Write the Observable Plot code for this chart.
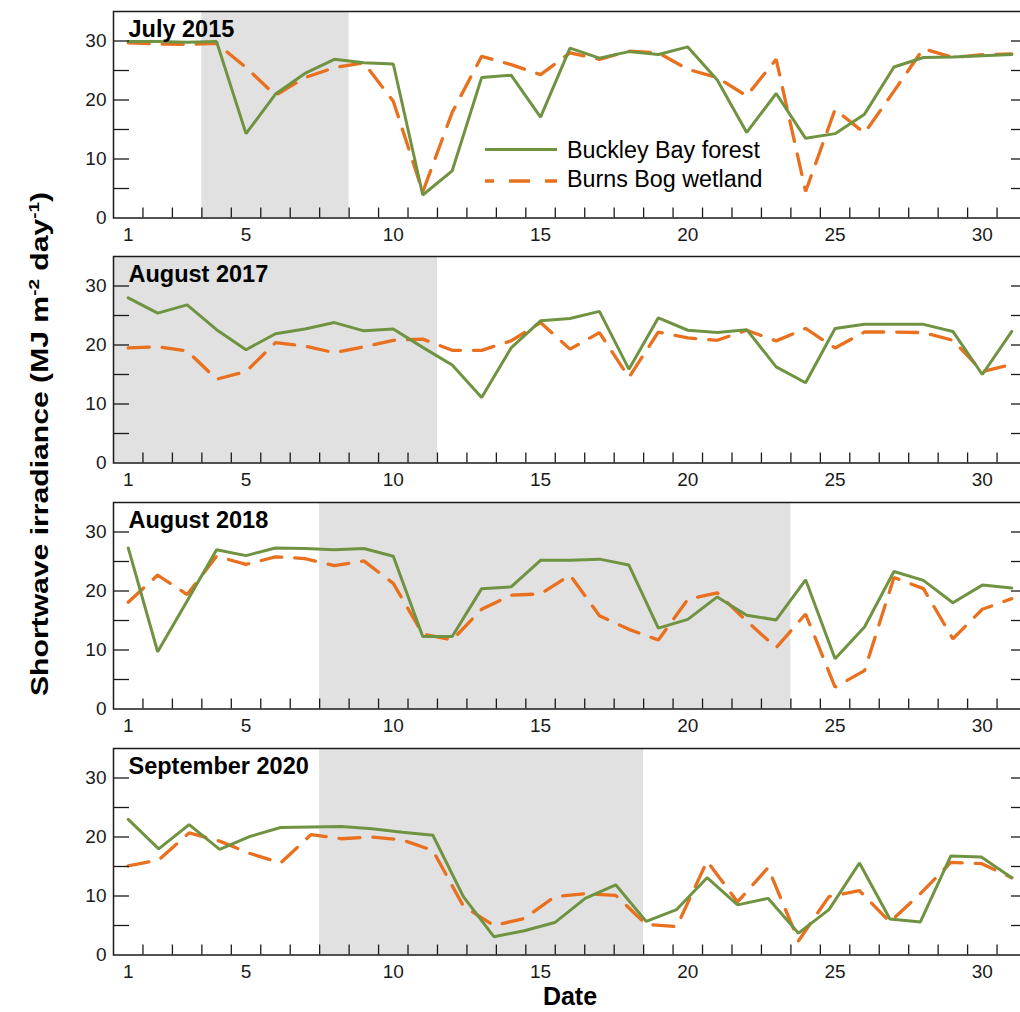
<!DOCTYPE html>
<html>
<head>
<meta charset="utf-8">
<script src="https://cdn.jsdelivr.net/npm/d3@7"></script>
<script src="https://cdn.jsdelivr.net/npm/@observablehq/plot@0.6"></script>
<style>
html, body { margin: 0; padding: 0; background: #fff; overflow: hidden; width: 1020px; height: 1012px; }
#wrap { position: relative; width: 1020px; height: 1012px; overflow: hidden; font-family: "Liberation Sans", Arial, Helvetica, sans-serif; }
.panel { position: absolute; left: 0; }
</style>
</head>
<body>
<div id="wrap"></div>
<script>
// ---------------- data ----------------
const seriesNames = ["Buckley Bay forest", "Burns Bog wetland"];
const panelTitles = ["July 2015", "August 2017", "August 2018", "September 2020"];

const days31 = [1,2,3,4,5,6,7,8,9,10,11,12,13,14,15,16,17,18,19,20,21,22,23,24,25,26,27,28,29,30,31];
const days30 = [1,2,3,4,5,6,7,8,9,10,11,12,13,14,15,16,17,18,19,20,21,22,23,24,25,26,27,28,29,30];

const july2015Forest = [29.9,29.9,29.8,29.9,14.3,21.0,24.5,26.9,26.3,26.1,3.9,8.0,23.8,24.2,17.1,28.8,27.1,28.2,27.7,29.0,23.4,14.5,21.1,13.5,14.3,17.6,25.6,27.2,27.3,27.5,27.7];
const july2015Bog    = [29.7,29.5,29.4,29.6,25.5,20.8,23.8,25.5,26.3,19.8,4.4,17.9,27.4,26.0,24.3,28.0,26.9,28.3,28.0,25.2,23.8,20.7,26.9,4.5,18.4,14.4,21.5,28.7,27.2,27.7,27.8];

const aug2017Forest = [28.0,25.4,26.8,22.6,19.2,21.9,22.7,23.8,22.4,22.7,19.6,16.6,11.1,19.5,24.1,24.5,25.7,15.9,24.6,22.5,22.1,22.6,16.3,13.6,22.8,23.5,23.5,23.5,22.3,15.0,22.3];
const aug2017Bog    = [19.5,19.7,19.0,14.2,15.5,20.4,19.8,18.7,19.7,20.8,21.0,19.1,19.1,20.7,23.8,19.3,22.1,14.5,22.2,21.2,20.8,22.5,20.7,22.8,19.5,22.2,22.2,22.1,20.8,15.5,16.7];

const aug2018Forest = [27.3,9.7,18.3,27.0,26.0,27.3,27.2,27.0,27.2,25.9,12.3,12.3,20.4,20.7,25.2,25.2,25.4,24.4,13.7,15.2,19.0,15.9,15.1,21.9,8.5,13.9,23.3,21.8,18.0,21.0,20.5];
const aug2018Bog    = [18.1,22.7,19.4,25.9,24.5,25.8,25.5,24.3,25.1,21.3,12.7,11.7,16.9,19.3,19.5,22.7,15.8,13.5,11.7,18.6,19.7,14.9,10.4,16.1,3.7,6.5,22.3,20.4,11.9,16.9,18.7];

const sep2020Forest = [23.0,18.0,22.1,17.9,20.1,21.6,21.7,21.8,21.4,20.8,20.3,9.9,3.1,4.1,5.5,9.6,11.9,5.7,7.7,13.1,8.5,9.6,3.7,7.7,15.6,6.1,5.6,16.8,16.6,13.1];
const sep2020Bog    = [15.1,16.1,20.7,19.3,17.2,15.6,20.4,19.7,20.0,19.5,17.7,8.3,5.0,6.2,9.9,10.4,10.1,5.2,4.8,15.9,9.0,14.8,2.4,9.9,10.9,5.6,10.4,15.7,15.5,13.1];

// shaded periods (day boundaries)
const shadeStart = [3.5, 0.5, 7.5, 7.5];
const shadeEnd   = [8.5, 11.5, 23.5, 18.5];

// axis ticks
const xTickLabels = [1,5,10,15,20,25,30];
const xTickMarks  = [1.5,2.5,3.5,4.5,5.5,6.5,7.5,8.5,9.5,10.5,11.5,12.5,13.5,14.5,15.5,16.5,17.5,18.5,19.5,20.5,21.5,22.5,23.5,24.5,25.5,26.5,27.5,28.5,29.5,30.5];
const yTickLabels = [0,10,20,30];
const yTickMarks  = [5,10,15,20,25,30];

// ---------------- style ----------------
const FONT = '"Liberation Sans", Arial, Helvetica, sans-serif';
const GREEN = "#6f9340";
const ORANGE = "#e8701e";
const SHADE = "#e1e1e1";
const INK = "#1a1a1a";

const W = 1030, ML = 113, MR = 4, MT = 10, MB = 34, PH = 206.5;
const plotW = W - ML - MR;
const panelTops = [10.7, 255.7, 501.7, 748.3];

const panels = [
  {title: panelTitles[0], days: days31, forest: july2015Forest, bog: july2015Bog},
  {title: panelTitles[1], days: days31, forest: aug2017Forest, bog: aug2017Bog},
  {title: panelTitles[2], days: days31, forest: aug2018Forest, bog: aug2018Bog},
  {title: panelTitles[3], days: days30, forest: sep2020Forest, bog: sep2020Bog}
];

const wrap = document.getElementById("wrap");

panels.forEach((p, k) => {
  const n = p.days.length;
  // days of the month are spread across the common 1–31 axis
  const pos = d => 1 + (d - 1) * 30 / (n - 1);
  const chart = Plot.plot({
    width: W,
    height: MT + PH + MB,
    marginLeft: ML, marginRight: MR, marginTop: MT, marginBottom: MB,
    style: {fontFamily: FONT, fontSize: "19px", color: INK, background: "transparent", maxWidth: "none", overflow: "visible"},
    x: {domain: [0.5, 31.5]},
    y: {domain: [0, 35]},
    marks: [
      Plot.rect([[shadeStart[k], shadeEnd[k]]], {x1: d => d[0], x2: d => d[1], fill: SHADE}),
      Plot.line(p.days, {x: d => pos(d), y: (d, i) => p.bog[i], stroke: ORANGE, strokeWidth: 3.3, strokeDasharray: "21,13", strokeLinejoin: "miter"}),
      Plot.line(p.days, {x: d => pos(d), y: (d, i) => p.forest[i], stroke: GREEN, strokeWidth: 3, strokeLinejoin: "miter"}),
      Plot.tickY(yTickMarks, {y: d => d, insetRight: plotW - 16, stroke: INK, strokeWidth: 1.3}),
      Plot.tickY(yTickMarks, {y: d => d, insetLeft: plotW - 15, stroke: INK, strokeWidth: 1.3}),
      Plot.tickX(xTickMarks, {x: d => d, insetTop: PH - 10, stroke: INK, strokeWidth: 1.3}),
      Plot.axisY({ticks: yTickLabels, tickSize: 0, tickPadding: 7, fontSize: 19, label: null}),
      Plot.axisX({ticks: xTickLabels, tickSize: 0, tickPadding: 9, fontSize: 19, label: null}),
      Plot.frame({stroke: INK, strokeWidth: 1.5}),
      Plot.text([p.title], {text: d => d, frameAnchor: "top-left", textAnchor: "start", lineAnchor: "top", dx: 15, dy: 9, fontWeight: "bold", fontSize: 23.5, fill: "#000"})
    ]
  });
  chart.classList.add("panel");
  chart.style.top = (panelTops[k] - MT) + "px";
  wrap.appendChild(chart);
});

// ---------------- titles and legend overlay ----------------
const ov = d3.select(wrap).append("svg")
  .attr("width", 1020).attr("height", 1012)
  .style("position", "absolute").style("left", 0).style("top", 0)
  .style("pointer-events", "none")
  .attr("font-family", FONT);

// y-axis title
const yt = ov.append("text")
  .attr("transform", "translate(48,444) rotate(-90)")
  .attr("text-anchor", "middle")
  .attr("font-weight", "bold")
  .attr("font-size", 24)
  .attr("textLength", 504)
  .attr("lengthAdjust", "spacingAndGlyphs")
  .attr("fill", "#000");
yt.append("tspan").text("Shortwave irradiance (MJ m");
yt.append("tspan").attr("dy", -9).attr("font-size", 15).text("-2");
yt.append("tspan").attr("dy", 9).text(" day");
yt.append("tspan").attr("dy", -9).attr("font-size", 15).text("-1");
yt.append("tspan").attr("dy", 9).text(")");

// x-axis title
ov.append("text")
  .attr("x", 570).attr("y", 1005)
  .attr("text-anchor", "middle")
  .attr("font-weight", "bold")
  .attr("font-size", 25)
  .attr("fill", "#000")
  .text("Date");

// legend (inside the first panel)
const lg = ov.append("g");
lg.append("line").attr("x1", 485).attr("x2", 557).attr("y1", 149.5).attr("y2", 149.5)
  .attr("stroke", GREEN).attr("stroke-width", 3);
lg.append("line").attr("x1", 485).attr("x2", 557).attr("y1", 181).attr("y2", 181)
  .attr("stroke", ORANGE).attr("stroke-width", 3.3).attr("stroke-dasharray", "21,15").attr("stroke-dashoffset", 12);
lg.append("text").attr("x", 567).attr("y", 158).attr("font-size", 23.3).attr("fill", "#000").text(seriesNames[0]);
lg.append("text").attr("x", 567).attr("y", 187).attr("font-size", 23.3).attr("fill", "#000").text(seriesNames[1]);
</script>
</body>
</html>
